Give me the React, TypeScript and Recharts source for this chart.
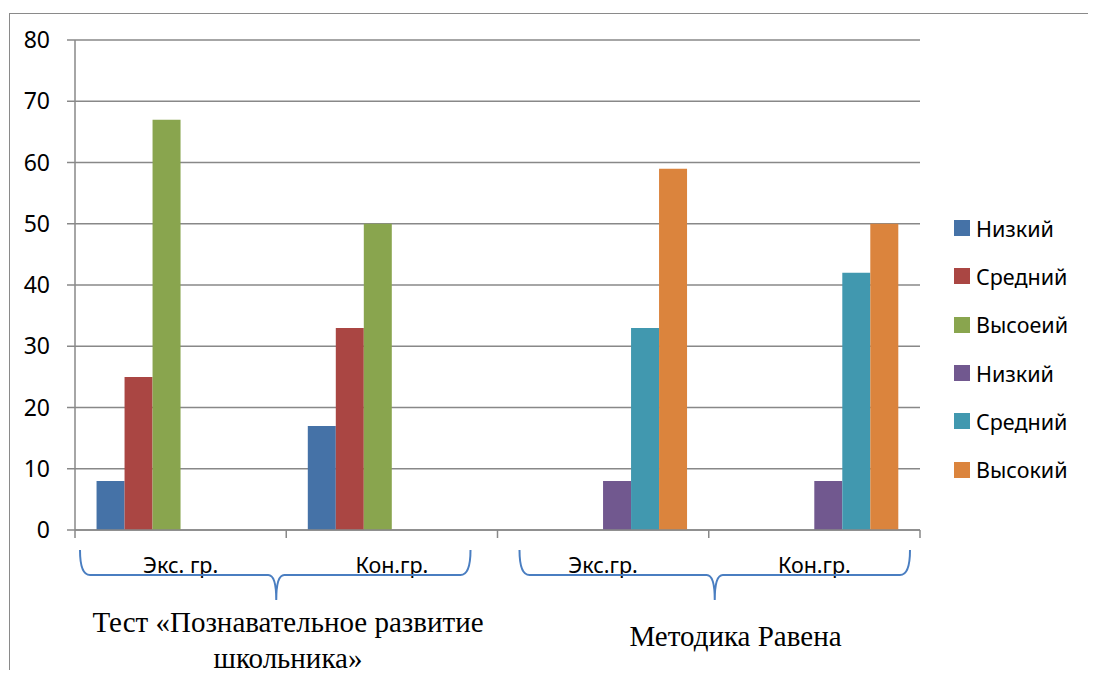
import React from "react";
import { BarChart, Bar, XAxis, YAxis, CartesianGrid } from "recharts";

const categories = ["Экс. гр.", "Кон.гр.", "Экс.гр.", "Кон.гр."];
const seriesNames = ["Низкий", "Средний", "Высоеий", "Низкий", "Средний", "Высокий"];
const seriesColors = ["#4572A7", "#AA4643", "#89A54E", "#71588F", "#4198AF", "#DB843D"];
// values per series, one entry per category (null = no bar)
const lowTest = [8, 17, null, null];
const midTest = [25, 33, null, null];
const highTest = [67, 50, null, null];
const lowRaven = [null, null, 8, 8];
const midRaven = [null, null, 33, 42];
const highRaven = [null, null, 59, 50];
const yTicks = [0, 10, 20, 30, 40, 50, 60, 70, 80];
const groupLabels = ["Тест «Познавательное развитие школьника»", "Методика Равена"];

const seriesValues = [lowTest, midTest, highTest, lowRaven, midRaven, highRaven];
const data = categories.map((name, i) => {
  const row: Record<string, any> = { name };
  seriesValues.forEach((vals, s) => {
    row["s" + s] = vals[i];
  });
  return row;
});

const W = 1080;
const H = 662;
const PLOT_LEFT = 67;
const PLOT_RIGHT = 912;
const PLOT_TOP = 32;
const PLOT_BOTTOM = 522;
const BAND = (PLOT_RIGHT - PLOT_LEFT) / categories.length;
const GRID = "#888888";
const FONT = "'Noto Sans', 'Open Sans', sans-serif";
const SERIF = "'Liberation Serif', serif";

const CategoryTick = (props: any) => {
  const { x, payload, index } = props;
  return (
    <g>
      <line x1={x - BAND / 2} x2={x - BAND / 2} y1={PLOT_BOTTOM} y2={PLOT_BOTTOM + 8} stroke={GRID} strokeWidth={1.5} />
      {index === categories.length - 1 && (
        <line x1={x + BAND / 2} x2={x + BAND / 2} y1={PLOT_BOTTOM} y2={PLOT_BOTTOM + 8} stroke={GRID} strokeWidth={1.5} />
      )}
      <text x={x} y={PLOT_BOTTOM + 43} textAnchor="middle" fontSize={21.5} fontFamily={FONT} fill="#000">
        {payload.value}
      </text>
    </g>
  );
};

const brace = (x1: number, xm: number, x2: number, y0: number) => {
  const y1 = y0 + 25;
  const y2 = y0 + 50;
  return `M ${x1} ${y0} Q ${x1} ${y1} ${x1 + 10} ${y1} L ${xm - 8} ${y1} Q ${xm} ${y1} ${xm} ${y2} Q ${xm} ${y1} ${xm + 8} ${y1} L ${x2 - 10} ${y1} Q ${x2} ${y1} ${x2} ${y0}`;
};

export default function App() {
  const b = (k: number) => PLOT_LEFT + BAND * k;
  return (
    <div style={{ position: "relative", width: W, height: H }}>
      <div
        style={{
          position: "absolute",
          left: 1,
          top: 5,
          width: W,
          height: H,
          borderLeft: "1.5px solid #8a8a8a",
          borderTop: "1.5px solid #8a8a8a",
        }}
      />
      <BarChart
        width={W}
        height={H}
        data={data}
        margin={{ top: PLOT_TOP, right: W - PLOT_RIGHT, bottom: H - PLOT_BOTTOM - 30, left: 0 }}
        barCategoryGap="10.2%"
        barGap={0}
      >
        <CartesianGrid vertical={false} stroke={GRID} strokeWidth={1.5} />
        <XAxis
          dataKey="name"
          height={30}
          axisLine={{ stroke: GRID, strokeWidth: 1.5 }}
          tickLine={false}
          tick={<CategoryTick />}
          interval={0}
        />
        <YAxis
          width={PLOT_LEFT}
          domain={[0, 80]}
          ticks={yTicks}
          interval={0}
          axisLine={{ stroke: GRID, strokeWidth: 1.5 }}
          tickLine={{ stroke: GRID, strokeWidth: 1.5 }}
          tickSize={8}
          tickMargin={17}
          tick={{ fontSize: 23, fontFamily: FONT, fill: "#000" }}
        />
        {seriesNames.map((n, i) => (
          <Bar key={i} dataKey={"s" + i} name={n} fill={seriesColors[i]} isAnimationActive={false} />
        ))}
      </BarChart>
      <div
        style={{
          position: "absolute",
          left: 946,
          top: 196,
          fontFamily: FONT,
          fontSize: 21.5,
          color: "#000",
        }}
      >
        {seriesNames.map((n, i) => (
          <div key={i} style={{ height: 48.3, display: "flex", alignItems: "center", whiteSpace: "nowrap" }}>
            <span style={{ width: 16, height: 16, background: seriesColors[i], display: "inline-block", marginRight: 6 }} />
            <span>{n}</span>
          </div>
        ))}
      </div>
      <svg style={{ position: "absolute", left: 0, top: 0, pointerEvents: "none" }} width={W} height={H}>
        <path d={brace(b(0) + 5, b(1) - 10, b(2) - 27, PLOT_BOTTOM + 20)} fill="none" stroke="#4A7EC1" strokeWidth={2} />
        <path d={brace(b(2) + 22, b(3) + 6, b(4) - 10, PLOT_BOTTOM + 20)} fill="none" stroke="#4A7EC1" strokeWidth={2} />
      </svg>
      <div
        style={{
          position: "absolute",
          left: 40,
          top: 597,
          width: 480,
          textAlign: "center",
          fontFamily: SERIF,
          fontSize: 29,
          lineHeight: "35.5px",
        }}
      >
        {groupLabels[0]}
      </div>
      <div
        style={{
          position: "absolute",
          left: 500,
          top: 611,
          width: 455,
          textAlign: "center",
          fontFamily: SERIF,
          fontSize: 29,
          lineHeight: "35.5px",
        }}
      >
        {groupLabels[1]}
      </div>
    </div>
  );
}
